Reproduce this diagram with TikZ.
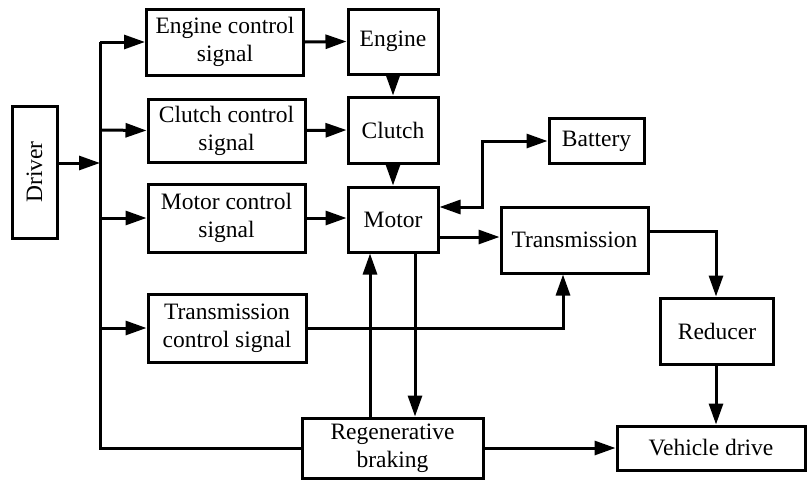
\documentclass[tikz,border=0pt]{standalone}
\usepackage{fontspec}
\setmainfont{Liberation Serif}
\usetikzlibrary{arrows.meta}
\begin{document}
\begin{tikzpicture}[x=1pt,y=-1pt,
  box/.style={draw,line width=3pt,align=center,inner sep=0pt,font=\fontsize{23.5}{28}\selectfont},
  ln/.style={line width=3pt},
  arr/.style={ln,-{Triangle[length=21pt,width=14pt]}},
  darr/.style={ln,{Triangle[length=21pt,width=14pt]}-{Triangle[length=21pt,width=14pt]}}]
\useasboundingbox (0,0) rectangle (808,479);
% nodes
\node[box,minimum width=45pt,minimum height=132pt] (driver) at (34.5,172) {\rotatebox{90}{Driver}};
\node[box,minimum width=157pt,minimum height=66pt] (ecs) at (225,42) {Engine control\\signal};
\node[box,minimum width=157pt,minimum height=63pt] (ccs) at (226.5,130.5) {Clutch control\\signal};
\node[box,minimum width=157pt,minimum height=68pt] (mcs) at (226.5,218) {Motor control\\signal};
\node[box,minimum width=158pt,minimum height=68pt] (tcs) at (227,328) {Transmission\\control signal};
\node[box,minimum width=90pt,minimum height=65pt] (engine) at (393,41.5) {Engine};
\node[box,minimum width=90pt,minimum height=66pt] (clutch) at (393,130) {Clutch};
\node[box,minimum width=90pt,minimum height=65pt] (motor) at (393,219.5) {Motor};
\node[box,minimum width=95pt,minimum height=45pt] (battery) at (596.5,141) {Battery};
\node[box,minimum width=147pt,minimum height=66pt] (trans) at (574.5,240) {Transmission};
\node[box,minimum width=113pt,minimum height=66pt] (reducer) at (717,331) {Reducer};
\node[box,minimum width=181pt,minimum height=60pt] (regen) at (392.5,448) {Regenerative\\braking};
\node[box,minimum width=188pt,minimum height=44pt] (vehicle) at (711,448) {Vehicle drive};
% coordinates
\coordinate (bd) at (100,163);
\coordinate (b1) at (100,42);
\coordinate (b2) at (100,130);
\coordinate (b3) at (100,218);
\coordinate (b4) at (100,328);
\coordinate (b5) at (100,448);
\coordinate (bm) at (482,207);
\coordinate (bt) at (482,141);
\coordinate (mt) at (438,237);
\coordinate (tr) at (716,231);
\coordinate (tu) at (563,328);
\coordinate (up) at (370,0);
\coordinate (dn) at (415,0);
% connectors
\draw[arr] (driver.east |- bd) -- (bd);
\draw[ln] (b1) -- (b5) -- (regen.west);
\draw[arr] (b1) -- (ecs.west);
\draw[arr] (b2) -- (ccs.west);
\draw[arr] (b3) -- (mcs.west);
\draw[arr] (b4) -- (tcs.west);
\draw[arr] (ecs.east) -- (engine.west);
\draw[arr] (ccs.east) -- (clutch.west);
\draw[arr] (mcs.east) -- (motor.west |- mcs.east);
\draw[arr] (engine.south) -- (clutch.north);
\draw[arr] (clutch.south) -- (motor.north);
\draw[darr] (motor.east |- bm) -- (bm) -- (bt) -- (battery.west);
\draw[arr] (motor.east |- mt) -- (trans.west |- mt);
\draw[arr] (trans.east |- tr) -- (tr) -- (tr |- reducer.north);
\draw[arr] (reducer.south -| tr) -- (vehicle.north -| tr);
\draw[arr] (tcs.east) -- (tu) -- (tu |- trans.south);
\draw[arr] (regen.north -| up) -- (motor.south -| up);
\draw[arr] (motor.south -| dn) -- (regen.north -| dn);
\draw[arr] (regen.east) -- (vehicle.west);
\end{tikzpicture}
\end{document}
